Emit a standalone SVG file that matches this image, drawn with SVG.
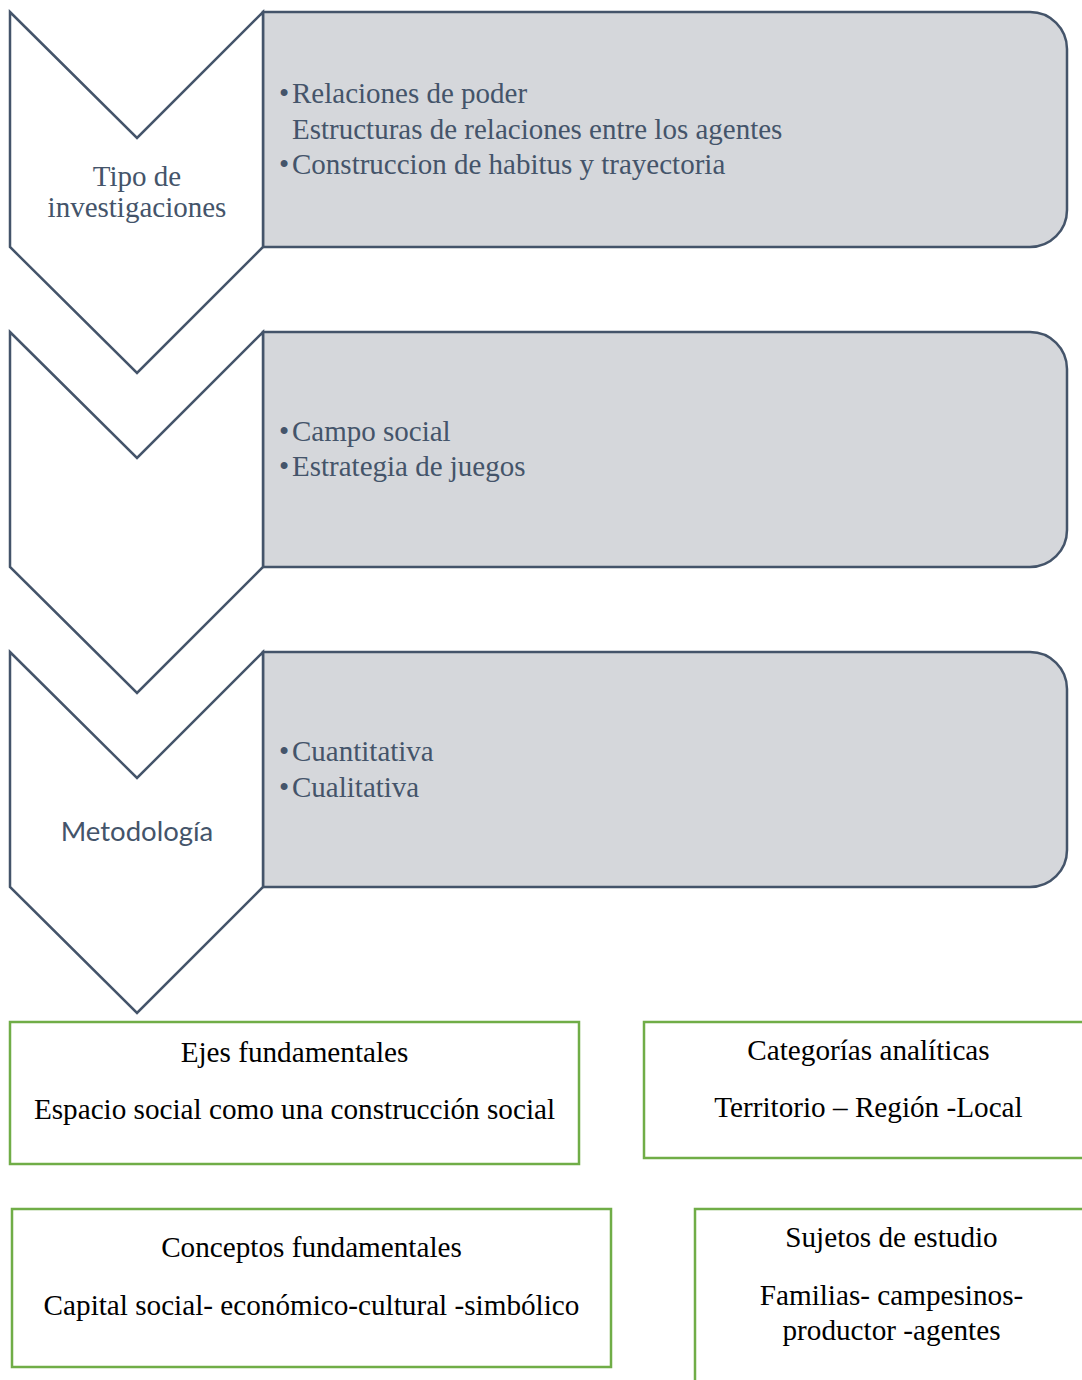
<svg xmlns="http://www.w3.org/2000/svg" width="1082" height="1380" viewBox="0 0 1082 1380">
<style>
.chev{fill:#ffffff;stroke:#44546a;stroke-width:2.5;stroke-linejoin:miter}
.panel{fill:#d5d7db;stroke:#44546a;stroke-width:2.5}
.gbox{fill:#ffffff;stroke:#70ad47;stroke-width:2.5}
.ptxt{font-family:"Liberation Serif","Times New Roman",serif;font-size:29px;fill:#44546a}
.ctxt{font-family:"Liberation Serif","Times New Roman",serif;font-size:29px;fill:#44546a;text-anchor:middle}
.stxt{font-family:Lato,"Open Sans",sans-serif;font-size:27.5px;fill:#44546a;text-anchor:middle}
.btxt{font-family:"Liberation Serif","Times New Roman",serif;font-size:29.2px;fill:#000000;text-anchor:middle}
</style>
<rect width="1082" height="1380" fill="#ffffff"/>
<g id="connectors"></g>
<g id="panel1">
<path class="panel" d="M263,12 H1030 A37,37 0 0 1 1067,49 V210 A37,37 0 0 1 1030,247 H263 Z"/>
<text class="ptxt" x="279" y="103">•</text>
<text class="ptxt" x="292" y="103">Relaciones de poder</text>
<text class="ptxt" x="292" y="139">Estructuras de relaciones entre los agentes</text>
<text class="ptxt" x="279" y="174">•</text>
<text class="ptxt" x="292" y="174">Construccion de habitus y trayectoria</text>
</g>
<g id="chevron1">
<polygon class="chev" points="10,12 137,138 263,12 263,247 137,373 10,247"/>
<text class="ctxt" x="137" y="186">Tipo de</text>
<text class="ctxt" x="137" y="217">investigaciones</text>
</g>
<g id="panel2">
<path class="panel" d="M263,332 H1030 A37,37 0 0 1 1067,369 V530 A37,37 0 0 1 1030,567 H263 Z"/>
<text class="ptxt" x="279" y="441">•</text>
<text class="ptxt" x="292" y="441">Campo social</text>
<text class="ptxt" x="279" y="476">•</text>
<text class="ptxt" x="292" y="476">Estrategia de juegos</text>
</g>
<g id="chevron2">
<polygon class="chev" points="10,332 137,458 263,332 263,567 137,693 10,567"/>
</g>
<g id="panel3">
<path class="panel" d="M263,652 H1030 A37,37 0 0 1 1067,689 V850 A37,37 0 0 1 1030,887 H263 Z"/>
<text class="ptxt" x="279" y="761">•</text>
<text class="ptxt" x="292" y="761">Cuantitativa</text>
<text class="ptxt" x="279" y="797">•</text>
<text class="ptxt" x="292" y="797">Cualitativa</text>
</g>
<g id="chevron3">
<polygon class="chev" points="10,652 137,778 263,652 263,887 137,1013 10,887"/>
<text class="stxt" x="137" y="841">Metodología</text>
</g>
<g id="ejes">
<rect class="gbox" x="10" y="1022" width="569" height="142"/>
<text class="btxt" x="294.5" y="1062">Ejes fundamentales</text>
<text class="btxt" x="294.5" y="1119">Espacio social como una construcción social</text>
</g>
<g id="categorias">
<rect class="gbox" x="644" y="1022" width="450" height="136"/>
<text class="btxt" x="868.5" y="1060">Categorías analíticas</text>
<text class="btxt" x="868.5" y="1117">Territorio – Región -Local</text>
</g>
<g id="conceptos">
<rect class="gbox" x="12" y="1209" width="599" height="158"/>
<text class="btxt" x="311.5" y="1257">Conceptos fundamentales</text>
<text class="btxt" x="311.5" y="1315">Capital social- económico-cultural -simbólico</text>
</g>
<g id="sujetos">
<rect class="gbox" x="695" y="1209" width="400" height="200"/>
<text class="btxt" x="891.5" y="1247">Sujetos de estudio</text>
<text class="btxt" x="891.5" y="1305">Familias- campesinos-</text>
<text class="btxt" x="891.5" y="1340">productor -agentes</text>
</g>
</svg>
